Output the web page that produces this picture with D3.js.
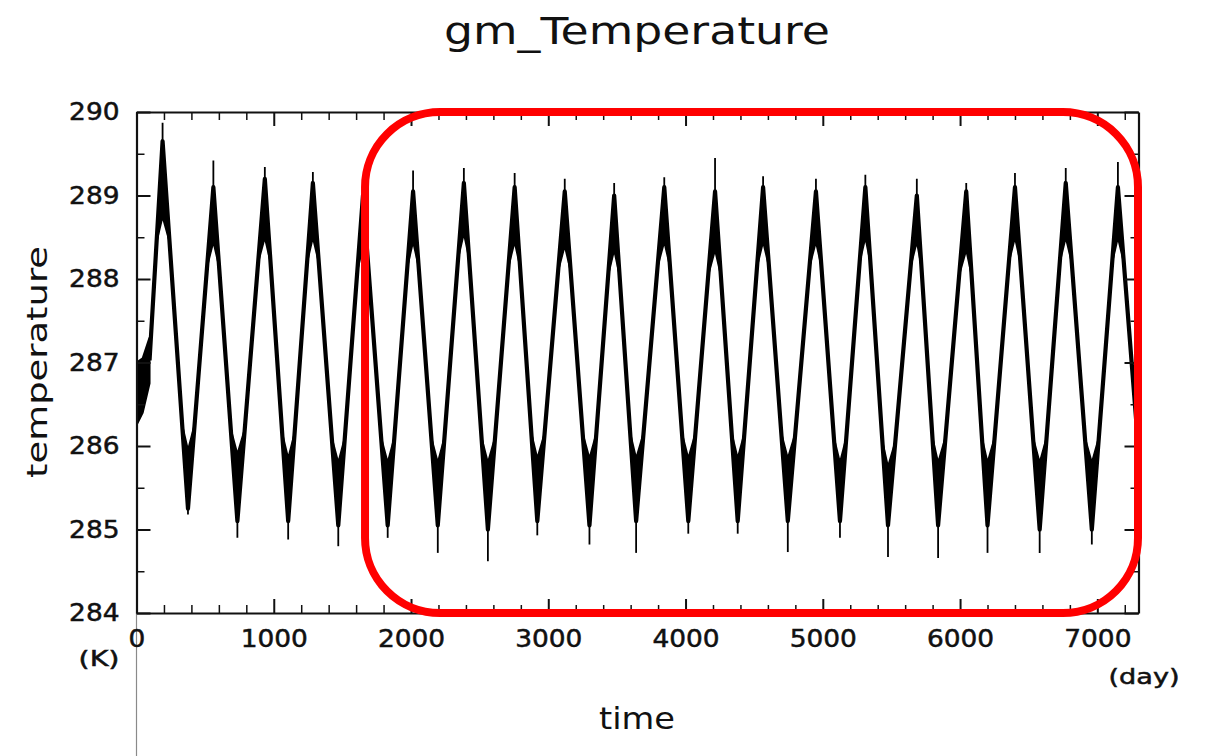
<!DOCTYPE html>
<html lang="en">
	<head>
		<meta charset="utf-8">
		<title>gm_Temperature</title>
		<script type="text/javascript" src="https://cdn.jsdelivr.net/npm/d3@7"></script>
		<style>
			body { margin: 0; background: #fff; }
			svg text { font-family: "DejaVu Sans", sans-serif; fill: #111; }
			.axis path, .axis line { stroke: #111; }
			.axis text, .unit { stroke: #111; stroke-width: 0.5px; }
		</style>
	</head>
	<body>
		<div id="vis"></div>
		<script type="text/javascript">
			// values (day, K)
			var startDay = [0, 45, 95];
			var startHi = [287.0, 287.05, 287.3];
			var startLo = [286.25, 286.4, 286.75];

			var peakDay = [190, 560, 935, 1285, 1650, 2015, 2385, 2755, 3120, 3480, 3845, 4215, 4565, 4950, 5310, 5685, 6045, 6400, 6770, 7150];
			var peakTip = [289.87, 289.42, 289.34, 289.28, 289.1, 289.3, 289.33, 289.27, 289.2, 289.15, 289.22, 289.45, 289.23, 289.2, 289.25, 289.2, 289.15, 289.27, 289.33, 289.4];
			var peakHi = [289.65, 289.1, 289.2, 289.15, 289.0, 289.05, 289.15, 289.1, 289.05, 289.0, 289.1, 289.05, 289.1, 289.05, 289.1, 289.0, 289.05, 289.1, 289.15, 289.1];
			var peakLo = [288.75, 288.45, 288.5, 288.5, 288.4, 288.45, 288.55, 288.45, 288.4, 288.35, 288.45, 288.35, 288.45, 288.45, 288.5, 288.45, 288.35, 288.5, 288.5, 288.5];

			var troughDay = [375, 735, 1105, 1470, 1830, 2195, 2560, 2920, 3300, 3640, 4020, 4380, 4745, 5125, 5475, 5840, 6200, 6580, 6960];
			var troughHi = [285.95, 285.9, 285.85, 285.8, 285.8, 285.8, 285.8, 285.85, 285.85, 285.85, 285.85, 285.85, 285.85, 285.8, 285.75, 285.8, 285.8, 285.8, 285.8];
			var troughLo = [285.25, 285.1, 285.1, 285.05, 285.05, 285.05, 285.0, 285.1, 285.05, 285.1, 285.1, 285.1, 285.1, 285.1, 285.05, 285.05, 285.05, 285.0, 285.0];
			var troughTip = [285.18, 284.9, 284.88, 284.8, 284.9, 284.72, 284.62, 284.93, 284.82, 284.72, 284.95, 284.95, 284.73, 284.9, 284.67, 284.66, 284.72, 284.72, 284.82];

			var endDay = 7300;
			var endVal = 285.95;

			var xMajor = [0, 1000, 2000, 3000, 4000, 5000, 6000, 7000];
			var yMajor = [284, 285, 286, 287, 288, 289, 290];

			// highlighted period (red frame)
			var highlight = [1665, 7300];

			var chart = function() {
				var W = 1208, H = 756;
				var pl = 136.5, pr = 1138.5, pt = 112, pb = 613;
				var blobTaper = 0.3; // K, how far the noisy blob runs down the slopes

				var x = d3.scaleLinear().domain([0, 7300]).range([pl, pr]);
				var y = d3.scaleLinear().domain([284, 290]).range([pb, pt]);

				var svg = d3.select("#vis").append("svg").attr("width", W).attr("height", H);

				// knots of the running line: start, peaks and troughs alternating, end
				var nStart = startDay.length - 1;
				var knots = [{day: startDay[nStart], v: (startHi[nStart] + startLo[nStart]) / 2}];
				peakDay.forEach(function(d, i) {
					knots.push({day: d, v: peakHi[i], type: "p", i: i});
					if (i < troughDay.length) knots.push({day: troughDay[i], v: troughLo[i], type: "t", i: i});
				});
				knots.push({day: endDay, v: endVal});

				svg.append("clipPath").attr("id", "clip").append("rect")
					.attr("x", pl).attr("y", pt).attr("width", pr - pl).attr("height", pb - pt);

				// line below the origin
				svg.append("line").attr("x1", x(0)).attr("x2", x(0)).attr("y1", pb).attr("y2", H)
					.attr("stroke", "#8a8a8a").attr("stroke-width", 1.2);

				var g = svg.append("g").attr("clip-path", "url(#clip)");

				// noisy start
				var startPts = startDay.map(function(d, i) { return {day: d, hi: startHi[i], lo: startLo[i]}; });
				g.append("path").datum(startPts)
					.attr("d", d3.area().x(function(d) { return x(d.day); })
						.y0(function(d) { return y(d.lo); }).y1(function(d) { return y(d.hi); }))
					.attr("fill", "#000").attr("stroke", "#000").attr("stroke-width", 2);

				var line = d3.line().x(function(d) { return x(d.day); }).y(function(d) { return y(d.v); });

				// day where the segment a-b crosses value v
				var cross = function(a, b, v) {
					return a.day + (v - a.v) / (b.v - a.v) * (b.day - a.day);
				};

				// thick noisy blobs at each extreme
				var blobs = [];
				knots.forEach(function(k, j) {
					if (!k.type) return;
					var a = knots[j - 1], b = knots[j + 1];
					var notch = k.type === "p" ? peakLo[k.i] : troughHi[k.i];
					var lvl = k.type === "p" ? notch - blobTaper : notch + blobTaper;
					var lv = k.type === "p" ? Math.max(lvl, a.v) : Math.min(lvl, a.v);
					var rv = k.type === "p" ? Math.max(lvl, b.v) : Math.min(lvl, b.v);
					blobs.push([
						{day: cross(a, k, lv), v: lv},
						{day: k.day, v: k.v},
						{day: cross(k, b, rv), v: rv},
						{day: k.day, v: notch}
					]);
				});
				g.selectAll("path.blob").data(blobs).enter().append("path").attr("class", "blob")
					.attr("d", function(d) { return line(d) + "Z"; })
					.attr("fill", "#000").attr("stroke", "#000").attr("stroke-width", 2)
					.attr("stroke-linejoin", "round");

				g.append("path").datum(knots).attr("d", line)
					.attr("fill", "none").attr("stroke", "#000").attr("stroke-width", 4.2)
					.attr("stroke-linejoin", "round");

				g.selectAll("line.pk").data(peakDay).enter().append("line").attr("class", "pk")
					.attr("x1", function(d) { return x(d); }).attr("x2", function(d) { return x(d); })
					.attr("y1", function(d, i) { return y(peakHi[i]); })
					.attr("y2", function(d, i) { return y(peakTip[i]); })
					.attr("stroke", "#000").attr("stroke-width", 1.8);

				g.selectAll("line.tr").data(troughDay).enter().append("line").attr("class", "tr")
					.attr("x1", function(d) { return x(d); }).attr("x2", function(d) { return x(d); })
					.attr("y1", function(d, i) { return y(troughLo[i]); })
					.attr("y2", function(d, i) { return y(troughTip[i]); })
					.attr("stroke", "#000").attr("stroke-width", 1.8);

				// axes, ticks pointing inward on all four sides
				var xMinor = d3.range(0, 7301, 200).filter(function(d) { return d % 1000 !== 0; });
				var yMinor = d3.range(284.5, 290, 1);

				var fmt = function(d) { return d; };
				var ax = [
					{ gen: d3.axisBottom, sc: x, t: "translate(0," + pb + ")", maj: xMajor, min: xMinor, lab: true, pad: 17 },
					{ gen: d3.axisTop, sc: x, t: "translate(0," + pt + ")", maj: xMajor, min: xMinor, lab: false },
					{ gen: d3.axisLeft, sc: y, t: "translate(" + pl + ",0)", maj: yMajor, min: yMinor, lab: true, pad: 17 },
					{ gen: d3.axisRight, sc: y, t: "translate(" + pr + ",0)", maj: yMajor, min: yMinor, lab: false }
				];
				ax.forEach(function(a) {
					svg.append("g").attr("class", "axis").attr("transform", a.t)
						.call(a.gen(a.sc).tickValues(a.min).tickSize(-8).tickFormat(""))
						.call(function(s) { s.select(".domain").remove(); })
						.selectAll("line").attr("stroke-width", 1.5);
					var m = svg.append("g").attr("class", "axis").attr("transform", a.t)
						.call(a.gen(a.sc).tickValues(a.maj).tickSize(-14).tickSizeOuter(0)
							.tickPadding(a.lab ? a.pad : 0).tickFormat(a.lab ? fmt : ""));
					m.select(".domain").attr("stroke-width", 2.2);
					m.selectAll("line").attr("stroke-width", 2);
					m.selectAll("text").style("font-size", "24px").attr("fill", "#111")
						.attr("textLength", function(d) { return String(d).length * 16.8; })
						.attr("lengthAdjust", "spacingAndGlyphs");
				});

				// red highlight frame
				var hx0 = x(highlight[0]), hx1 = x(highlight[1]) - 0.5;
				svg.append("rect")
					.attr("x", hx0).attr("y", pt).attr("width", hx1 - hx0).attr("height", pb - pt)
					.attr("rx", 75).attr("ry", 75)
					.attr("fill", "none").attr("stroke", "#ff0000").attr("stroke-width", 8);

				// texts
				svg.append("text").attr("x", 637).attr("y", 44).attr("text-anchor", "middle")
					.attr("textLength", 386).attr("lengthAdjust", "spacingAndGlyphs")
					.style("font-size", "37px").attr("fill", "#222").text("gm_Temperature");

				svg.append("text").attr("transform", "translate(47,362) rotate(-90)")
					.attr("text-anchor", "middle").attr("textLength", 232).attr("lengthAdjust", "spacingAndGlyphs")
					.style("font-size", "29px").attr("fill", "#222").text("temperature");

				svg.append("text").attr("x", 637).attr("y", 729).attr("text-anchor", "middle")
					.attr("textLength", 76).attr("lengthAdjust", "spacingAndGlyphs")
					.style("font-size", "31px").attr("fill", "#222").text("time");

				svg.append("text").attr("class", "unit").attr("x", 99).attr("y", 666).attr("text-anchor", "middle")
					.attr("textLength", 41).attr("lengthAdjust", "spacingAndGlyphs")
					.style("font-size", "21px").text("(K)");

				svg.append("text").attr("class", "unit").attr("x", 1144).attr("y", 684).attr("text-anchor", "middle")
					.attr("textLength", 71).attr("lengthAdjust", "spacingAndGlyphs")
					.style("font-size", "21px").text("(day)");
			}();
		</script>
	</body>
</html>
